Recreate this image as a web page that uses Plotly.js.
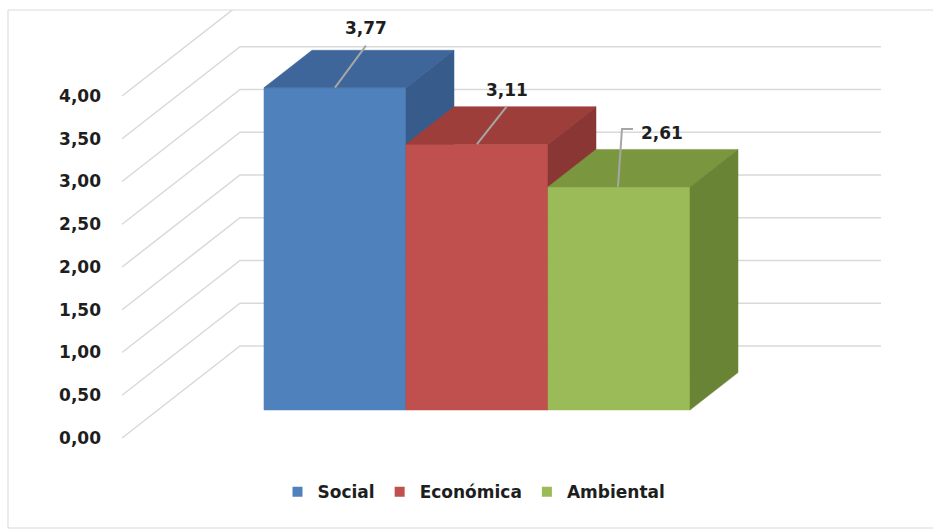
<!DOCTYPE html>
<html>
<head>
<meta charset="utf-8">
<script src="https://cdn.plot.ly/plotly-3.0.1.min.js"></script>
<style>html,body{margin:0;padding:0;background:#fff;}#chart{width:933px;height:529px;}</style>
</head>
<body>
<div id="chart"></div>
<script>
// ---- data ----
var categories = ['Social', 'Económica', 'Ambiental'];
var values = [3.77, 3.11, 2.61];
var tickValues = [0, 0.5, 1, 1.5, 2, 2.5, 3, 3.5, 4];

// ---- style ----
var frontColors = ['#4F81BD', '#C0504D', '#9BBB59'];
var topColors   = ['#3E669A', '#9E3E3B', '#7A973F'];
var sideColors  = ['#375C8B', '#8A3634', '#6A8436'];
var gridColor = '#D9D9D9';
var leaderColor = '#A6A6A6';
var textColor = '#1E1E1E';
var FONT = 'DejaVu Sans, Arial, sans-serif';

// projection (oblique 3D) in axis units
var PXU = 142, PXV = 85.5;          // pixels per axis unit
var DU = 118 / PXU, DV = 92 / PXV;  // full floor depth vector
var F1 = 0.304, F2 = 0.711;         // bar front / back depth fractions
var GRID_LEFT = -0.747, GRID_RIGHT = 4.598;

function p(a, v, d) { return [a + d * DU, v + d * DV]; }
function fmt(v) { return v.toFixed(2).replace('.', ','); }

var traces = [];

// gridlines (front diagonal + back wall line)
var gx = [], gy = [];
tickValues.forEach(function (v) {
  var s = p(GRID_LEFT, v, 0), b = p(GRID_LEFT, v, 1);
  gx.push(s[0], b[0], GRID_RIGHT, null);
  gy.push(s[1], b[1], b[1], null);
});
traces.push({x: gx, y: gy, mode: 'lines', line: {color: gridColor, width: 1.5},
  hoverinfo: 'skip', showlegend: false});

function poly(pts, color) {
  var xs = pts.map(function (q) { return q[0]; });
  var ys = pts.map(function (q) { return q[1]; });
  xs.push(xs[0]); ys.push(ys[0]);
  return {x: xs, y: ys, mode: 'lines', fill: 'toself', fillcolor: color,
    line: {color: color, width: 0.5}, hoverinfo: 'skip', showlegend: false};
}

values.forEach(function (h, i) {
  traces.push(poly([p(i, 0, F1), p(i + 1, 0, F1), p(i + 1, h, F1), p(i, h, F1)], frontColors[i]));
  traces.push(poly([p(i, h, F1), p(i + 1, h, F1), p(i + 1, h, F2), p(i, h, F2)], topColors[i]));
  traces.push(poly([p(i + 1, 0, F1), p(i + 1, 0, F2), p(i + 1, h, F2), p(i + 1, h, F1)], sideColors[i]));
});

// leader lines (pixel offsets from front-top centre)
var leaderOffsets = [
  [[0, 0], [31, 42]],
  [[0, 0], [30, 38]],
  [[-1, 0], [3, 58], [14, 58]]
];
var labelShift = [[31, 60], [30, 54], [43, 54]];
var annotations = [];
values.forEach(function (h, i) {
  var c = p(i + 0.5, h, F1);
  var lx = [], ly = [];
  leaderOffsets[i].forEach(function (o) { lx.push(c[0] + o[0] / PXU); ly.push(c[1] + o[1] / PXV); });
  traces.push({x: lx, y: ly, mode: 'lines', line: {color: leaderColor, width: 2},
    hoverinfo: 'skip', showlegend: false});
  annotations.push({x: c[0], y: c[1], xref: 'x', yref: 'y', text: fmt(h), showarrow: false,
    xshift: labelShift[i][0], yshift: labelShift[i][1],
    font: {family: FONT, size: 17, color: textColor, weight: 'bold'}});
});

// legend entries
categories.forEach(function (name, i) {
  traces.push({x: [null], y: [null], name: name, mode: 'markers', type: 'scatter',
    marker: {symbol: 'square', size: 10, color: frontColors[i]}, hoverinfo: 'skip'});
});

var bx0 = (8 - 105) / 820, by0 = (470 - 528) / 460;
function edge(x0, y0, x1, y1) {
  return {type: 'line', xref: 'paper', yref: 'paper', x0: x0, y0: y0, x1: x1, y1: y1,
    line: {color: gridColor, width: 1}, layer: 'below'};
}

var layout = {
  width: 933, height: 529,
  margin: {l: 105, r: 8, t: 10, b: 59},
  paper_bgcolor: '#FFFFFF', plot_bgcolor: '#FFFFFF',
  showlegend: true,
  legend: {orientation: 'h', x: 0.45, xanchor: 'center', y: -0.048, yanchor: 'middle',
    font: {family: FONT, size: 17, color: textColor, weight: 'bold'}, itemclick: false},
  xaxis: {range: [(105 - 228.1) / PXU, (925 - 228.1) / PXU], visible: false, fixedrange: true},
  yaxis: {range: [(438 - 470) / PXV, (438 - 10) / PXV], showgrid: false, zeroline: false,
    showline: false, ticks: '', tickvals: tickValues, ticktext: tickValues.map(fmt),
    ticklabelstandoff: 3,
    tickfont: {family: FONT, size: 17, color: textColor, weight: 'bold'}, fixedrange: true},
  annotations: annotations,
  shapes: [edge(bx0, by0, bx0, 1), edge(bx0, 1, 1.02, 1), edge(bx0, by0, 1.02, by0)]
};

Plotly.newPlot('chart', traces, layout, {displayModeBar: false, staticPlot: true});
</script>
</body>
</html>
